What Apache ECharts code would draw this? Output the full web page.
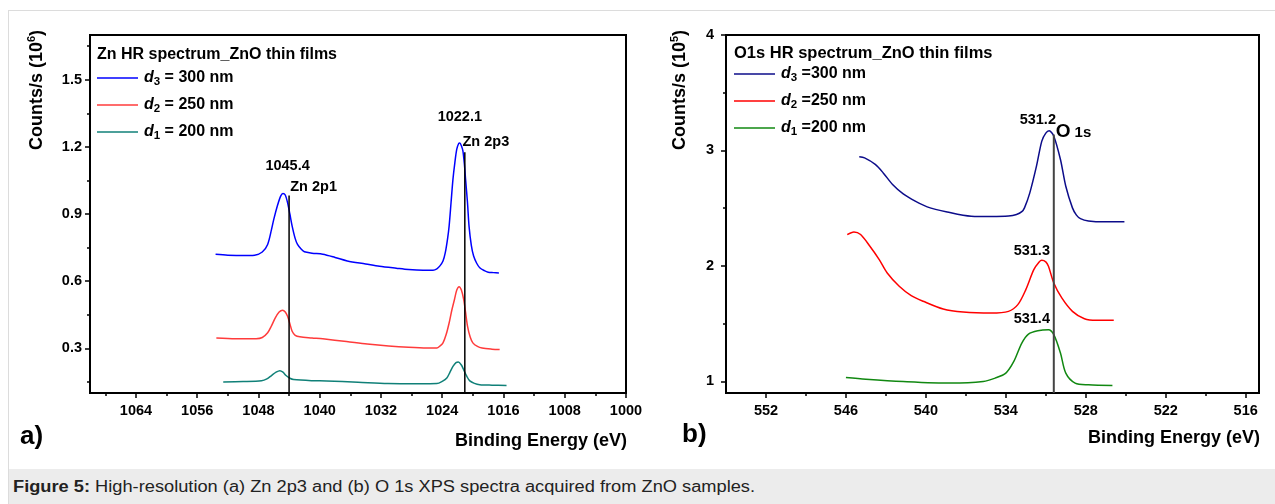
<!DOCTYPE html>
<html>
<head>
<meta charset="utf-8">
<script src="https://cdn.jsdelivr.net/npm/echarts@6/dist/echarts.min.js"></script>
<style>
  html, body { margin: 0; padding: 0; background: #fff; }
  #frame { position: absolute; left: 8px; top: 10px; width: 1280px; height: 500px;
           border-left: 1px solid #dcdcdc; border-top: 1px solid #dcdcdc; background: #fff; }
  #band { position: absolute; left: 9px; top: 469px; width: 1266px; height: 35px; background: #ececec; }
  #caption { position: absolute; left: 13px; top: 478px; font-family: Arial, "Liberation Sans", sans-serif;
             font-size: 16px; color: #222; white-space: nowrap; transform: scaleX(1.14); transform-origin: left center; }
  #chart { position: absolute; left: 0; top: 0; width: 1275px; height: 504px; }
</style>
</head>
<body>
<div id="frame"></div>
<div id="band"></div>
<div id="caption"><b>Figure 5:</b> High-resolution (a) Zn 2p3 and (b) O 1s XPS spectra acquired from ZnO samples.</div>
<div id="chart"></div>
<script>
// ---------- Panel a) Zn 2p (x: binding energy eV, y: counts/s x10^6) ----------
const znD3 = [[1053.6,0.720],[1052,0.716],[1050,0.714],[1048.5,0.716],[1047.5,0.730],[1046.8,0.764],[1046.3,0.830],[1046.0,0.876],[1045.5,0.940],[1045.1,0.980],[1044.8,0.992],[1044.5,0.985],[1044.2,0.951],[1043.9,0.900],[1043.6,0.846],[1043.2,0.790],[1042.9,0.764],[1042.4,0.742],[1042.0,0.731],[1041,0.725],[1039.6,0.720],[1038,0.706],[1036.4,0.690],[1034,0.677],[1032.2,0.667],[1030,0.658],[1028.4,0.652],[1026.5,0.649],[1025.2,0.649],[1024.7,0.655],[1024.3,0.668],[1023.9,0.690],[1023.6,0.727],[1023.3,0.790],[1023.1,0.846],[1022.85,0.950],[1022.6,1.055],[1022.35,1.130],[1022.1,1.190],[1021.85,1.215],[1021.7,1.217],[1021.5,1.205],[1021.3,1.182],[1021.1,1.120],[1020.95,1.055],[1020.7,0.950],[1020.5,0.846],[1020.2,0.760],[1019.9,0.712],[1019.5,0.680],[1019.1,0.660],[1018.5,0.647],[1018.0,0.640],[1017.3,0.638],[1016.6,0.636]];
const znD2 = [[1053.5,0.346],[1051,0.343],[1048.3,0.343],[1047.5,0.348],[1046.8,0.369],[1046.3,0.400],[1045.8,0.436],[1045.3,0.462],[1044.85,0.470],[1044.5,0.462],[1044.2,0.443],[1043.9,0.410],[1043.6,0.376],[1043.2,0.358],[1042.6,0.351],[1041,0.346],[1039.6,0.342],[1036.5,0.330],[1033.8,0.319],[1031,0.310],[1028.4,0.304],[1026,0.301],[1024.7,0.301],[1024.3,0.310],[1023.9,0.324],[1023.5,0.360],[1023.1,0.413],[1022.75,0.470],[1022.4,0.518],[1022.1,0.560],[1021.8,0.575],[1021.5,0.560],[1021.2,0.518],[1020.95,0.460],[1020.7,0.399],[1020.35,0.350],[1020.0,0.324],[1019.4,0.308],[1018.8,0.301],[1017.5,0.296],[1016.5,0.294]];
const znD1 = [[1052.6,0.149],[1050,0.151],[1047.6,0.155],[1046.9,0.163],[1046.3,0.178],[1045.7,0.193],[1045.2,0.200],[1044.8,0.193],[1044.4,0.178],[1043.9,0.166],[1043.4,0.160],[1041,0.155],[1039.1,0.154],[1035,0.148],[1031.1,0.142],[1027,0.141],[1024.7,0.142],[1024,0.152],[1023.4,0.167],[1023.0,0.192],[1022.6,0.219],[1022.2,0.236],[1021.9,0.239],[1021.5,0.225],[1021.2,0.204],[1020.8,0.175],[1020.4,0.154],[1019.8,0.143],[1019.1,0.137],[1017.5,0.135],[1015.6,0.134]];
const znPeakLines = [[[1044.0,0.1],[1044.0,0.983]], [[1021.05,0.1],[1021.05,1.176]]];
const znNotes = [[1044.2,1.114,'1045.4'],[1040.8,1.020,'Zn 2p1'],[1021.7,1.333,'1022.1'],[1018.3,1.221,'Zn 2p3']];
const znXLabels = [1064,1056,1048,1040,1032,1024,1016,1008,1000];
const znXMinor = [1068,1060,1052,1044,1036,1028,1020,1012,1004];
const znYLabels = [0.3,0.6,0.9,1.2,1.5];
const znYMinor = [0.15,0.45,0.75,1.05,1.35,1.65];
const znNames = ['d3 = 300 nm','d2 = 250 nm','d1 = 200 nm'];

// ---------- Panel b) O 1s (x: binding energy eV, y: counts/s x10^5) ----------
const oD3 = [[545.0,2.945],[544.6,2.936],[543.8,2.879],[543.2,2.806],[542.5,2.705],[541.7,2.624],[540.8,2.561],[539.9,2.512],[538.4,2.468],[536.6,2.431],[535.1,2.428],[533.8,2.432],[533.2,2.445],[532.8,2.470],[532.6,2.503],[532.2,2.633],[531.7,2.864],[531.3,3.081],[531.0,3.150],[530.75,3.170],[530.4,3.124],[529.9,2.922],[529.5,2.690],[529.0,2.503],[528.7,2.440],[528.4,2.410],[527.8,2.390],[526.6,2.382],[525.1,2.382]];
const oD2 = [[545.9,2.272],[545.4,2.295],[544.9,2.272],[544.2,2.171],[543.5,2.055],[542.9,1.939],[542.0,1.824],[541.1,1.743],[540.2,1.694],[538.7,1.627],[537.2,1.601],[535.1,1.592],[533.8,1.607],[533.1,1.665],[532.5,1.795],[531.9,1.968],[531.5,2.035],[531.3,2.049],[531.0,2.035],[530.8,1.997],[530.4,1.853],[529.8,1.723],[529.0,1.607],[528.1,1.543],[527.2,1.529],[525.9,1.529]];
const oD1 = [[546.0,1.035],[544.5,1.020],[541.7,1.000],[538.1,0.986],[535.7,1.000],[534.8,1.029],[534.0,1.072],[533.4,1.173],[532.8,1.332],[532.3,1.410],[531.6,1.439],[530.8,1.448],[530.4,1.405],[529.9,1.246],[529.5,1.072],[528.8,0.986],[527.8,0.971],[526.0,0.965]];
const oPeakLine = [[530.4,0.9],[530.4,3.139]];
const oNotes = [[531.6,3.26,'531.2'],[532.05,2.133,'531.3'],[532.05,1.543,'531.4']];
const oLabelNote = [[530.25,3.165,'O 1s']];
const oXLabels = [552,546,540,534,528,522,516];
const oXMinor = [549,543,537,531,525,519];
const oYLabels = [1,2,3,4];
const oYMinor = [1.5,2.5,3.5];
const oNames = ['d3 =300 nm','d2 =250 nm','d1 =200 nm'];

const FONT = 'Arial, "Liberation Sans", sans-serif';
const INK = '#000';
const chart = echarts.init(document.getElementById('chart'), null, {renderer: 'canvas'});

function xAxisPair(grid, min, max, labels, minor) {
  return [{
    type: 'value', gridIndex: grid, min: min, max: max, inverse: true,
    axisLine: {onZero: false, lineStyle: {color: '#000', width: 2}},
    axisTick: {show: true, customValues: labels, length: 5, lineStyle: {color: '#000', width: 1.5}},
    axisLabel: {customValues: labels, formatter: v => String(v), color: INK, fontSize: 14.5, fontWeight: 'bold', fontFamily: FONT, margin: 10},
    splitLine: {show: false}
  }, {
    type: 'value', gridIndex: grid, min: min, max: max, inverse: true, position: 'bottom',
    axisLine: {show: false, onZero: false},
    axisTick: {show: true, customValues: minor, length: 3, lineStyle: {color: '#000', width: 1.5}},
    axisLabel: {show: false}, splitLine: {show: false}
  }];
}
function yAxisPair(grid, min, max, labels, minor, margin) {
  return [{
    type: 'value', gridIndex: grid, min: min, max: max,
    axisLine: {show: true, onZero: false, lineStyle: {color: '#000', width: 2}},
    axisTick: {show: true, customValues: labels, length: 5, lineStyle: {color: '#000', width: 1.5}},
    axisLabel: {customValues: labels, formatter: v => String(v), color: INK, fontSize: 14.5, fontWeight: 'bold', fontFamily: FONT, margin: margin},
    splitLine: {show: false}
  }, {
    type: 'value', gridIndex: grid, min: min, max: max, position: 'left',
    axisLine: {show: false, onZero: false},
    axisTick: {show: true, customValues: minor, length: 3, lineStyle: {color: '#000', width: 1.5}},
    axisLabel: {show: false}, splitLine: {show: false}
  }];
}

function curve(name, data, xi, yi, color) {
  return {type: 'line', name: name, data: data, xAxisIndex: xi, yAxisIndex: yi,
    showSymbol: false, symbol: 'none', smooth: 0.3,
    lineStyle: {color: color, width: 1.5}, itemStyle: {color: color}, z: 3};
}
function vline(data, xi, yi, color, w) {
  return {type: 'line', data: data, xAxisIndex: xi, yAxisIndex: yi, symbol: 'none',
    lineStyle: {color: color, width: w}, silent: true, z: 4};
}
const noteRich = {
  o: {fontSize: 19, fontWeight: 'bold', fontFamily: FONT, color: INK},
  s: {fontSize: 15, fontWeight: 'bold', fontFamily: FONT, color: INK, padding: [3, 0, 0, 0]}
};
function notes(data, xi, yi, align) {
  return {type: 'scatter', data: data, xAxisIndex: xi, yAxisIndex: yi, symbolSize: 0, silent: true, z: 5,
    itemStyle: {opacity: 1, color: INK},
    label: {show: true, position: 'inside', align: align || 'center', verticalAlign: 'middle', opacity: 1,
      formatter: p => p.value[2] === 'O 1s' ? '{o|O} {s|1s}' : p.value[2],
      color: INK, fontSize: 14.5, fontWeight: 'bold', fontFamily: FONT, rich: noteRich}};
}

const legendRich = {
  i: {fontStyle: 'italic', fontWeight: 'bold', fontSize: 16, fontFamily: FONT, color: INK, lineHeight: 20},
  sb: {fontWeight: 'bold', fontSize: 11.5, fontFamily: FONT, color: INK, lineHeight: 10, verticalAlign: 'bottom'},
  t: {fontWeight: 'bold', fontSize: 16, fontFamily: FONT, color: INK, lineHeight: 20}
};
function legendFmt(name) { return '{i|d}{sb|' + name[1] + '}{t|' + name.slice(2) + '}'; }
const legendBase = {orient: 'vertical', icon: 'rect', itemWidth: 41, itemHeight: 1.6, itemGap: 9, padding: 0,
  formatter: legendFmt, textStyle: {rich: legendRich, padding: [0, 0, 0, 1]}};

const option = {
  animation: false,
  textStyle: {fontFamily: FONT},
  grid: [
    {left: 90, top: 35, width: 536, height: 358, show: true, borderColor: '#000', borderWidth: 2},
    {left: 726, top: 35, width: 533, height: 358, show: true, borderColor: '#000', borderWidth: 2}
  ],
  title: [
    {text: 'Zn HR spectrum_ZnO thin films', left: 97, top: 47, padding: 0,
     textStyle: {fontSize: 16, fontWeight: 'bold', fontFamily: FONT, color: INK}},
    {text: 'O1s HR spectrum_ZnO thin films', left: 734, top: 45, padding: 0,
     textStyle: {fontSize: 16.5, fontWeight: 'bold', fontFamily: FONT, color: INK}}
  ],
  legend: [
    Object.assign({data: znNames, left: 97, top: 70}, legendBase),
    Object.assign({data: oNames, left: 734, top: 66}, legendBase)
  ],
  xAxis: [...xAxisPair(0, 1000, 1070, znXLabels, znXMinor), ...xAxisPair(1, 515, 555, oXLabels, oXMinor)],
  yAxis: [...yAxisPair(0, 0.1, 1.7, znYLabels, znYMinor, 8), ...yAxisPair(1, 0.9, 4, oYLabels, oYMinor, 12)],
  series: [
    curve(znNames[0], znD3, 0, 0, '#0000ff'),
    curve(znNames[1], znD2, 0, 0, '#ff3b3b'),
    curve(znNames[2], znD1, 0, 0, '#108078'),
    vline(znPeakLines[0], 0, 0, '#000', 1.5),
    vline(znPeakLines[1], 0, 0, '#000', 1.5),
    notes(znNotes, 0, 0),
    curve(oNames[0], oD3, 2, 2, '#0c0c8a'),
    curve(oNames[1], oD2, 2, 2, '#ff0000'),
    curve(oNames[2], oD1, 2, 2, '#118811'),
    vline(oPeakLine, 2, 2, '#444', 2),
    notes(oNotes, 2, 2),
    notes(oLabelNote, 2, 2, 'left')
  ],
  graphic: [
    {type: 'text', x: 37, y: 90, rotation: Math.PI / 2,
     style: {text: 'Counts/s (10{sup|6})', fontSize: 18, fontWeight: 'bold', fontFamily: FONT, fill: INK,
       align: 'center', verticalAlign: 'middle', lineHeight: 22,
       rich: {sup: {fontSize: 11, fontWeight: 'bold', fontFamily: FONT, fill: INK, verticalAlign: 'top', lineHeight: 11}}}},
    {type: 'text', x: 680, y: 90, rotation: Math.PI / 2,
     style: {text: 'Counts/s (10{sup|5})', fontSize: 18, fontWeight: 'bold', fontFamily: FONT, fill: INK,
       align: 'center', verticalAlign: 'middle', lineHeight: 22,
       rich: {sup: {fontSize: 11, fontWeight: 'bold', fontFamily: FONT, fill: INK, verticalAlign: 'top', lineHeight: 11}}}},
    {type: 'text', x: 627, y: 441, style: {text: 'Binding Energy (eV)', fontSize: 18, fontWeight: 'bold', fontFamily: FONT,
       fill: INK, align: 'right', verticalAlign: 'middle'}},
    {type: 'text', x: 1260, y: 438, style: {text: 'Binding Energy (eV)', fontSize: 18, fontWeight: 'bold', fontFamily: FONT,
       fill: INK, align: 'right', verticalAlign: 'middle'}},
    {type: 'text', x: 20, y: 437, style: {text: 'a)', fontSize: 26, fontWeight: 'bold', fontFamily: FONT,
       fill: INK, align: 'left', verticalAlign: 'middle'}},
    {type: 'text', x: 682, y: 435, style: {text: 'b)', fontSize: 26, fontWeight: 'bold', fontFamily: FONT,
       fill: INK, align: 'left', verticalAlign: 'middle'}}
  ]
};
// map axes to grids: first two x/y axes belong to grid 0, last two to grid 1
option.xAxis.forEach((a, i) => { a.gridIndex = i < 2 ? 0 : 1; });
option.yAxis.forEach((a, i) => { a.gridIndex = i < 2 ? 0 : 1; });
chart.setOption(option);
</script>
</body>
</html>
